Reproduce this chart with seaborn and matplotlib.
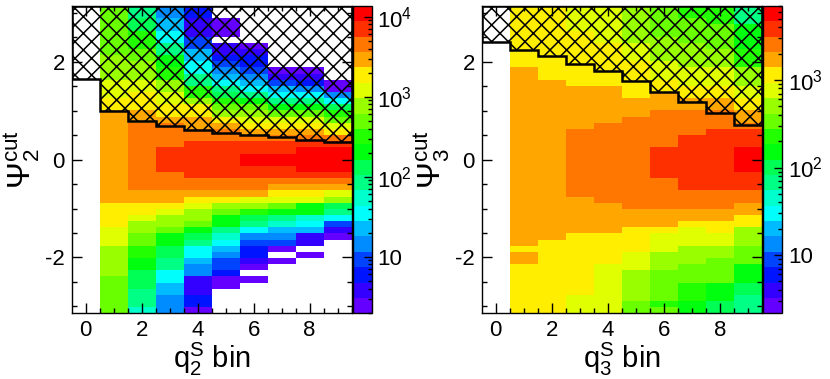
import colorsys
import numpy as np
import pandas as pd
import matplotlib
matplotlib.use('Agg')
import matplotlib.pyplot as plt
import seaborn as sns
from matplotlib.colors import ListedColormap, LogNorm
from matplotlib.ticker import FixedLocator, FuncFormatter, LogLocator, NullFormatter

# q^S bins on x, 50 bins of Psi^cut in [-pi, pi] on y
q_bins = list(range(10))
n_psi = 50
n_levels = 20

# colour level (0 = lowest of the 20 log-spaced contours, 19 = highest)
# for each q bin, Psi bins listed bottom -> top, None = empty
psi2_levels = [
    [None] * 50,
    [12] * 6 + [13] * 5 + [14] * 3 + [15] * 4 + [16] * 15 + [15] * 2 + [14] * 3 + [13] * 4 + [12] * 8,
    [7] + [8] * 3 + [9] * 3 + [10] * 2 + [11] * 2 + [12] * 2 + [13] * 2 + [14] + [15] * 2 + [16] * 2
    + [17] * 11 + [16] * 2 + [15] * 3 + [14] * 2 + [13] * 3 + [12] * 2 + [11] * 3 + [9] * 2 + [8] * 2,
    [4] * 3 + [5] * 2 + [6] * 2 + [8] * 2 + [9] * 2 + [10] * 2 + [12] + [13] * 2 + [14] + [15] + [16] * 2
    + [17] * 3 + [18] * 4 + [17] * 4 + [16] + [15] * 2 + [14] * 2 + [13] * 2 + [11] * 2 + [10] * 2
    + [8] * 2 + [6] * 2 + [5] * 2 + [4] * 2,
    [0] + [2] * 2 + [1] * 3 + [4] * 2 + [5] + [6] * 2 + [8] + [9] + [10] + [12] + [13] * 2 + [14] + [15]
    + [16] + [17] * 2 + [18] * 6 + [17] * 2 + [16] * 2 + [15] * 2 + [13] + [11] * 2 + [8] * 2 + [6] * 2
    + [5] * 2 + [3] * 2 + [1] * 3 + [2] * 2,
    [None] * 4 + [0] * 2 + [2] + [3] * 2 + [4] + [5] + [6] + [7] + [8] + [10] * 2 + [12] + [13] + [15]
    + [16] + [17] * 2 + [18] * 6 + [17] * 2 + [16] + [15] + [13] + [12] + [11] + [9] + [8] + [6] + [5]
    + [4] + [3] + [2] + [1] * 2 + [None] + [0] * 3 + [None] * 2,
    [None] * 5 + [0] + [None] + [0] + [1] + [2] * 2 + [3] + [4] + [6] + [8] + [9] + [11] + [13] + [14]
    + [16] + [17] * 2 + [18] * 2 + [19] * 2 + [18] * 2 + [17] + [16] + [15] + [14] + [13] + [12] + [10]
    + [8] + [6] + [5] + [4] + [3] + [2] * 2 + [1] + [0] + [None] * 6,
    [None] * 8 + [0] + [None] + [0] + [3] + [4] + [5] + [7] + [8] + [10] + [12] + [14] + [15] + [16]
    + [17] + [18] * 2 + [19] * 2 + [18] * 2 + [17] + [16] + [15] + [14] + [12] + [10] + [8] + [6] + [5]
    + [3] + [1] + [0] + [None] * 10,
    [None] * 9 + [0] + [None] + [1] * 2 + [5] + [6] + [7] + [10] * 2 + [14] + [15] + [16] + [17] + [18]
    + [19] * 4 + [18] + [17] + [16] + [15] + [14] + [12] + [10] + [8] + [6] + [4] + [2] + [1] + [0]
    + [None] * 10,
    [None] * 12 + [0] + [1] + [3] + [6] + [8] + [9] + [13] + [14] + [16] + [17] + [18] + [19] * 4 + [18]
    + [17] + [15] + [14] + [12] + [11] + [9] + [6] + [4] + [0] * 2 + [None] * 12,
]

psi3_levels = [
    [None] * 50,
    [15] * 8 + [16] * 2 + [15] + [16] * 29 + [15] * 10,
    [15] * 12 + [16] * 26 + [15] * 12,
    [14] * 3 + [15] * 10 + [16] * 6 + [17] * 11 + [16] * 7 + [15] * 9 + [14] * 4,
    [14] * 8 + [15] * 5 + [16] * 5 + [17] * 13 + [16] * 6 + [15] * 7 + [14] * 6,
    [12] * 2 + [13] * 5 + [14] * 3 + [15] * 4 + [16] * 3 + [17] * 15 + [16] * 3 + [15] * 6 + [14] * 3 + [13] * 6,
    [12] + [11] + [12] * 5 + [13] * 3 + [14] * 3 + [15] + [16] * 3 + [17] * 5 + [18] * 5 + [17] * 6
    + [16] * 3 + [15] * 2 + [14] * 3 + [13] * 4 + [12] * 5,
    [10] * 2 + [11] * 3 + [12] * 3 + [13] * 3 + [14] * 3 + [15] + [16] * 2 + [17] * 3 + [18] * 9 + [17] * 4
    + [16] * 2 + [15] * 2 + [14] * 3 + [13] * 4 + [12] * 4 + [11] * 2,
    [9] * 2 + [10] * 3 + [12] * 4 + [13] * 2 + [14] * 2 + [15] * 2 + [16] * 2 + [17] * 3 + [18] * 10
    + [17] * 3 + [16] * 2 + [15] * 2 + [14] * 3 + [13] * 3 + [12] * 4 + [11] * 3,
    [8] * 3 + [9] * 2 + [10] * 3 + [12] * 3 + [13] * 3 + [15] * 2 + [16] * 2 + [17] * 2 + [18] * 3
    + [19] * 4 + [18] * 3 + [17] + [16] * 2 + [15] * 2 + [14] * 2 + [13] * 3 + [11] * 3 + [10] * 4 + [8] * 3,
]

# z-axis (counts) range of each palette
psi2_zrange = (1.96, 13600)
psi3_zrange = (2.16, 7010)

# Psi^cut value per q bin, hatched above
psi2_cut = [1.64, 1.00, 0.80, 0.68, 0.60, 0.545, 0.495, 0.455, 0.41, 0.355]
psi3_cut = [2.40, 2.25, 2.11, 1.96, 1.805, 1.60, 1.375, 1.17, 0.955, 0.70]


def root_palette():
    # ROOT "pretty" palette (violet -> red) sampled on 20 contour levels
    cols = []
    for k in range(n_levels):
        p = int((k + 0.99) * 50 / n_levels)
        if p >= 49:
            cols.append((1.0, 0.0, 0.0))
        else:
            hue = 280 - (p + 1) * 5.6
            cols.append(colorsys.hls_to_rgb(hue / 360.0, 0.5, 1.0))
    return ListedColormap(cols)


def to_counts(levels, zrange):
    lo, hi = np.log10(zrange)
    arr = np.array([[np.nan if v is None else v for v in col] for col in levels], dtype=float)
    return 10 ** (lo + (arr + 0.5) * (hi - lo) / n_levels)


def hx(q):
    return q + 0.5


def hy(psi):
    return (psi + np.pi) / (2 * np.pi) * n_psi


def draw_panel(ax, cax, levels, zrange, cuts, idx):
    counts = to_counts(levels, zrange)
    df = pd.DataFrame(counts.T, columns=q_bins)
    sns.heatmap(df, ax=ax, cmap=cmap, norm=LogNorm(*zrange), cbar_ax=cax,
                xticklabels=False, yticklabels=False)
    ax.invert_yaxis()

    # hatched region above the cut
    xs = [hx(-0.5)]
    ys = [hy(np.pi)]
    for i, c in enumerate(cuts):
        xs += [hx(i - 0.5), hx(i + 0.5)]
        ys += [hy(c), hy(c)]
    xs.append(hx(9.5))
    ys.append(hy(np.pi))
    ax.fill(xs, ys, facecolor='none', edgecolor='black', hatch='xx', linewidth=1.8)

    for sp in ax.spines.values():
        sp.set_visible(True)
        sp.set_linewidth(1.0)
        sp.set_color('black')

    ax.set_xticks([hx(q) for q in [0, 2, 4, 6, 8]])
    ax.set_xticklabels(['0', '2', '4', '6', '8'])
    ax.xaxis.set_minor_locator(FixedLocator([hx(q) for q in np.arange(0, 9.6, 0.5)]))
    ax.set_yticks([hy(v) for v in [-2, 0, 2]])
    ax.set_yticklabels(['-2', '0', '2'])
    ax.yaxis.set_minor_locator(FixedLocator([hy(v) for v in np.arange(-3, 3.1, 0.5)]))
    ax.tick_params(which='both', direction='in', top=True, right=True, width=1, colors='black')
    ax.tick_params(which='major', length=7, labelsize=16, pad=5)
    ax.tick_params(which='minor', length=3.5)
    ax.tick_params(axis='x', labelrotation=0)
    ax.tick_params(axis='y', labelrotation=0)

    ax.set_xlabel(r'$\mathrm{q}_{%d}^{S}$ bin' % idx, fontsize=21, labelpad=0)
    ax.set_ylabel(r'$\Psi_{%d}^{cut}$' % idx, fontsize=23, labelpad=2)

    cbar = ax.collections[0].colorbar
    cbar.outline.set_linewidth(1.0)
    cbar.outline.set_edgecolor('black')
    cax.yaxis.set_major_locator(LogLocator(base=10))
    cax.yaxis.set_minor_locator(LogLocator(base=10, subs=np.arange(2, 10)))
    cax.yaxis.set_major_formatter(FuncFormatter(
        lambda v, _: '10' if abs(v - 10) < 1e-6 else r'$10^{%d}$' % round(np.log10(v))))
    cax.yaxis.set_minor_formatter(NullFormatter())
    cax.tick_params(which='both', direction='in', colors='black', width=1)
    cax.tick_params(which='major', length=6, labelsize=16, pad=4)
    cax.tick_params(which='minor', length=3)


plt.rcParams['font.family'] = 'Liberation Sans'
plt.rcParams['mathtext.fontset'] = 'custom'
plt.rcParams['mathtext.rm'] = 'Liberation Sans'
plt.rcParams['mathtext.it'] = 'Liberation Sans:italic'
plt.rcParams['mathtext.default'] = 'regular'
plt.rcParams['hatch.linewidth'] = 1.1

cmap = root_palette()

fig = plt.figure(figsize=(8.3, 3.79), dpi=100)
ax1 = fig.add_axes([0.0864, 0.1733, 0.3373, 0.8109])
cax1 = fig.add_axes([0.4257, 0.1733, 0.0222, 0.8109])
ax2 = fig.add_axes([0.5804, 0.1733, 0.3373, 0.8109])
cax2 = fig.add_axes([0.9196, 0.1733, 0.0229, 0.8109])

draw_panel(ax1, cax1, psi2_levels, psi2_zrange, psi2_cut, 2)
draw_panel(ax2, cax2, psi3_levels, psi3_zrange, psi3_cut, 3)

fig.savefig('out.png', dpi=100)
